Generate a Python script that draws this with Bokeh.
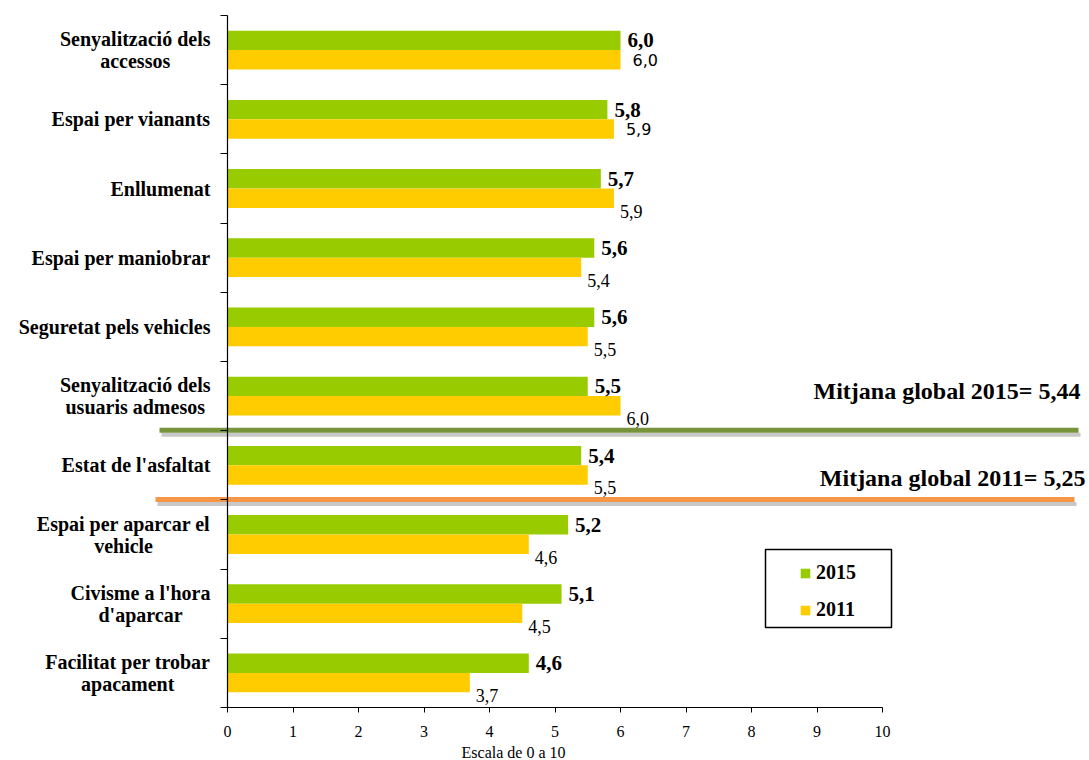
from bokeh.plotting import figure
from bokeh.models import (Range1d, FixedTicker, Label, LabelSet, BoxAnnotation, Legend,
                          LegendItem, ColumnDataSource, CustomJSTickFormatter, LinearAxis)
from bokeh.embed import file_html
from bokeh.resources import INLINE
from bokeh.core.properties import value

# ---------------- data ----------------
categories = [
    "Senyalització dels\naccessos",
    "Espai per vianants",
    "Enllumenat",
    "Espai per maniobrar",
    "Seguretat pels vehicles",
    "Senyalització dels\nusuaris admesos",
    "Estat de l'asfaltat",
    "Espai per aparcar el\nvehicle",
    "Civisme a l'hora\nd'aparcar",
    "Facilitat per trobar\napacament",
]
v2015 = [6.0, 5.8, 5.7, 5.6, 5.6, 5.5, 5.4, 5.2, 5.1, 4.6]
v2011 = [6.0, 5.9, 5.9, 5.4, 5.5, 6.0, 5.5, 4.6, 4.5, 3.7]
series_names = ["2015", "2011"]
means = [5.44, 5.25]
mean_texts = ["Mitjana global 2015= 5,44", "Mitjana global 2011= 5,25"]
x_ticks = [0, 1, 2, 3, 4, 5, 6, 7, 8, 9, 10]
x_axis_label = "Escala de 0 a 10"

# ---------------- style / layout ----------------
SERIF = "Liberation Serif"
SANS = "DejaVu Sans"
GREEN = "#99CC00"
YELLOW = "#FFCC00"
LINE_COLORS = ["#77933C", "#F79646"]
SHADOW = "#C8C8C8"

W, H = 1089, 760
ML, MR, MT, MB = 227, 207, 15, 53     # where the value axes sit inside the canvas
n = len(categories)
XMAX = x_ticks[-1]
SX = (W - ML - MR) / XMAX             # px per x unit
PX = (H - MT - MB) / n                # px per y unit
BAR_H = 0.28

TB = {' ': 250, "'": 278, 'a': 500, 'b': 556, 'c': 444, 'd': 556, 'e': 444, 'f': 333,
      'g': 500, 'h': 556, 'i': 278, 'j': 333, 'k': 556, 'l': 278, 'm': 833, 'n': 556,
      'o': 500, 'p': 556, 'q': 556, 'r': 444, 's': 389, 't': 333, 'u': 556, 'v': 500,
      'w': 722, 'x': 500, 'y': 500, 'z': 444, 'ó': 500, 'E': 667, 'S': 556, 'C': 722,
      'F': 611}


def text_w(s, size):
    return sum(TB.get(ch, 500) for ch in s) / 1000.0 * size


def fmt(v):
    return f"{v:.1f}".replace(".", ",")


centers = [n - i - 0.5 for i in range(n)]

p = figure(width=W, height=H,
           x_range=Range1d(-ML / SX, XMAX + MR / SX),
           y_range=Range1d(-MB / PX, n + MT / PX),
           output_backend="svg", toolbar_location=None,
           x_axis_location=None, y_axis_location=None, min_border=0)
p.outline_line_color = None
p.grid.visible = False
p.background_fill_color = "white"
p.border_fill_color = "white"

src = ColumnDataSource(dict(
    y15=[c + BAR_H / 2 for c in centers],
    y11=[c - BAR_H / 2 for c in centers],
    v15=v2015, v11=v2011,
    t15=[fmt(v) for v in v2015],
    t11=[fmt(v) for v in v2011],
))
r15 = p.hbar(y="y15", left=0, right="v15", height=BAR_H, source=src,
             fill_color=GREEN, line_color=None)
r11 = p.hbar(y="y11", left=0, right="v11", height=BAR_H, source=src,
             fill_color=YELLOW, line_color=None)

# mean lines (at the category boundary where the mean falls among the 2015 values)
line_ext = [(159, 1078), (155, 1074)]
text_pos = [(1080, 40), (1085, 22)]
for i, m in enumerate(means):
    yb = n - sum(1 for v in v2015 if v > m)
    l, r = line_ext[i]
    p.add_layout(BoxAnnotation(left=l + 2, right=r + 2, left_units="screen", right_units="screen",
                               top=yb - 2 / PX, bottom=yb - 6 / PX, fill_color=SHADOW,
                               fill_alpha=1, line_color=None, level="underlay"))
    p.add_layout(BoxAnnotation(left=l, right=r, left_units="screen", right_units="screen",
                               top=yb + 3 / PX, bottom=yb - 2 / PX, fill_color=LINE_COLORS[i],
                               fill_alpha=1, line_color=None, level="underlay"))
    tx, toff = text_pos[i]
    p.add_layout(Label(x=tx, x_units="screen", y=yb, y_offset=toff, text=mean_texts[i],
                       text_align="right", text_baseline="middle", text_font=SERIF,
                       text_font_style="bold", text_font_size="24px", text_color="black"))

# axes
xa = LinearAxis(fixed_location=0, bounds=(0, XMAX), ticker=FixedTicker(ticks=x_ticks))
xa.minor_tick_line_color = None
xa.major_tick_in = 0
xa.major_tick_out = 5
xa.axis_line_color = "black"
xa.axis_line_width = 1.2
xa.major_tick_line_color = "black"
xa.major_label_text_font = SERIF
xa.major_label_text_font_size = "16px"
xa.major_label_text_color = "black"
xa.major_label_standoff = 13
p.add_layout(xa, "below")

ya = LinearAxis(fixed_location=0, bounds=(0, n), ticker=FixedTicker(ticks=list(range(n + 1))))
ya.formatter = CustomJSTickFormatter(code="return ''")
ya.minor_tick_line_color = None
ya.major_tick_in = 0
ya.major_tick_out = 7
ya.axis_line_color = "black"
ya.axis_line_width = 1.2
ya.major_tick_line_color = "black"
p.add_layout(ya, "left")

# category labels
LBL_SIZE = 20
RIGHT = -17
for c, name in zip(centers, categories):
    lines = name.split("\n")
    if len(lines) == 1:
        p.add_layout(Label(x=0, x_offset=RIGHT, y=c, text=name, text_align="right",
                           text_baseline="middle", text_font=SERIF, text_font_style="bold",
                           text_font_size=f"{LBL_SIZE}px", text_color="black"))
    else:
        cx = RIGHT - text_w(lines[0], LBL_SIZE) / 2
        for k, ln in enumerate(lines):
            p.add_layout(Label(x=0, x_offset=cx, y=c, y_offset=11 - 22 * k, text=ln,
                               text_align="center", text_baseline="middle", text_font=SERIF,
                               text_font_style="bold", text_font_size=f"{LBL_SIZE}px",
                               text_color="black"))

# value labels
p.add_layout(LabelSet(x="v15", y="y15", text="t15", source=src, x_offset=7,
                      text_baseline="middle", text_align="left", text_font=value(SERIF),
                      text_font_style="bold", text_font_size="21px", text_color="black"))

src11a = ColumnDataSource(dict(x=v2011[:2], y=[c - BAR_H / 2 for c in centers[:2]],
                               t=[fmt(v) for v in v2011[:2]]))
src11b = ColumnDataSource(dict(x=v2011[2:], y=[c - BAR_H / 2 for c in centers[2:]],
                               t=[fmt(v) for v in v2011[2:]]))
p.add_layout(LabelSet(x="x", y="y", text="t", source=src11a, x_offset=12,
                      text_baseline="middle", text_align="left", text_font=value(SANS),
                      text_font_size="16px", text_color="black"))
p.add_layout(LabelSet(x="x", y="y", text="t", source=src11b, x_offset=6, y_offset=-13,
                      text_baseline="middle", text_align="left", text_font=value(SERIF),
                      text_font_size="18px", text_color="black"))

# legend
legend = Legend(items=[LegendItem(label=series_names[0], renderers=[r15]),
                       LegendItem(label=series_names[1], renderers=[r11])],
                location=(799, 139), orientation="vertical", padding=10, spacing=14,
                glyph_width=12, glyph_height=12, label_standoff=5,
                label_text_font=SERIF, label_text_font_style="bold",
                label_text_font_size="20px", label_text_color="black",
                border_line_color=None, background_fill_alpha=0)
p.add_layout(legend)
p.add_layout(BoxAnnotation(left=765, right=891, left_units="screen", right_units="screen",
                           top=(H - MB - 549) / PX, bottom=(H - MB - 627) / PX,
                           fill_alpha=0, line_color="black", line_width=1.5, line_alpha=1))

# axis title
p.add_layout(Label(x=513, x_units="screen", y=0, y_offset=-45, text=x_axis_label,
                   text_align="center", text_baseline="middle", text_font=SERIF,
                   text_font_size="16px", text_color="black"))

open("out.html", "w").write(file_html(p, INLINE))
